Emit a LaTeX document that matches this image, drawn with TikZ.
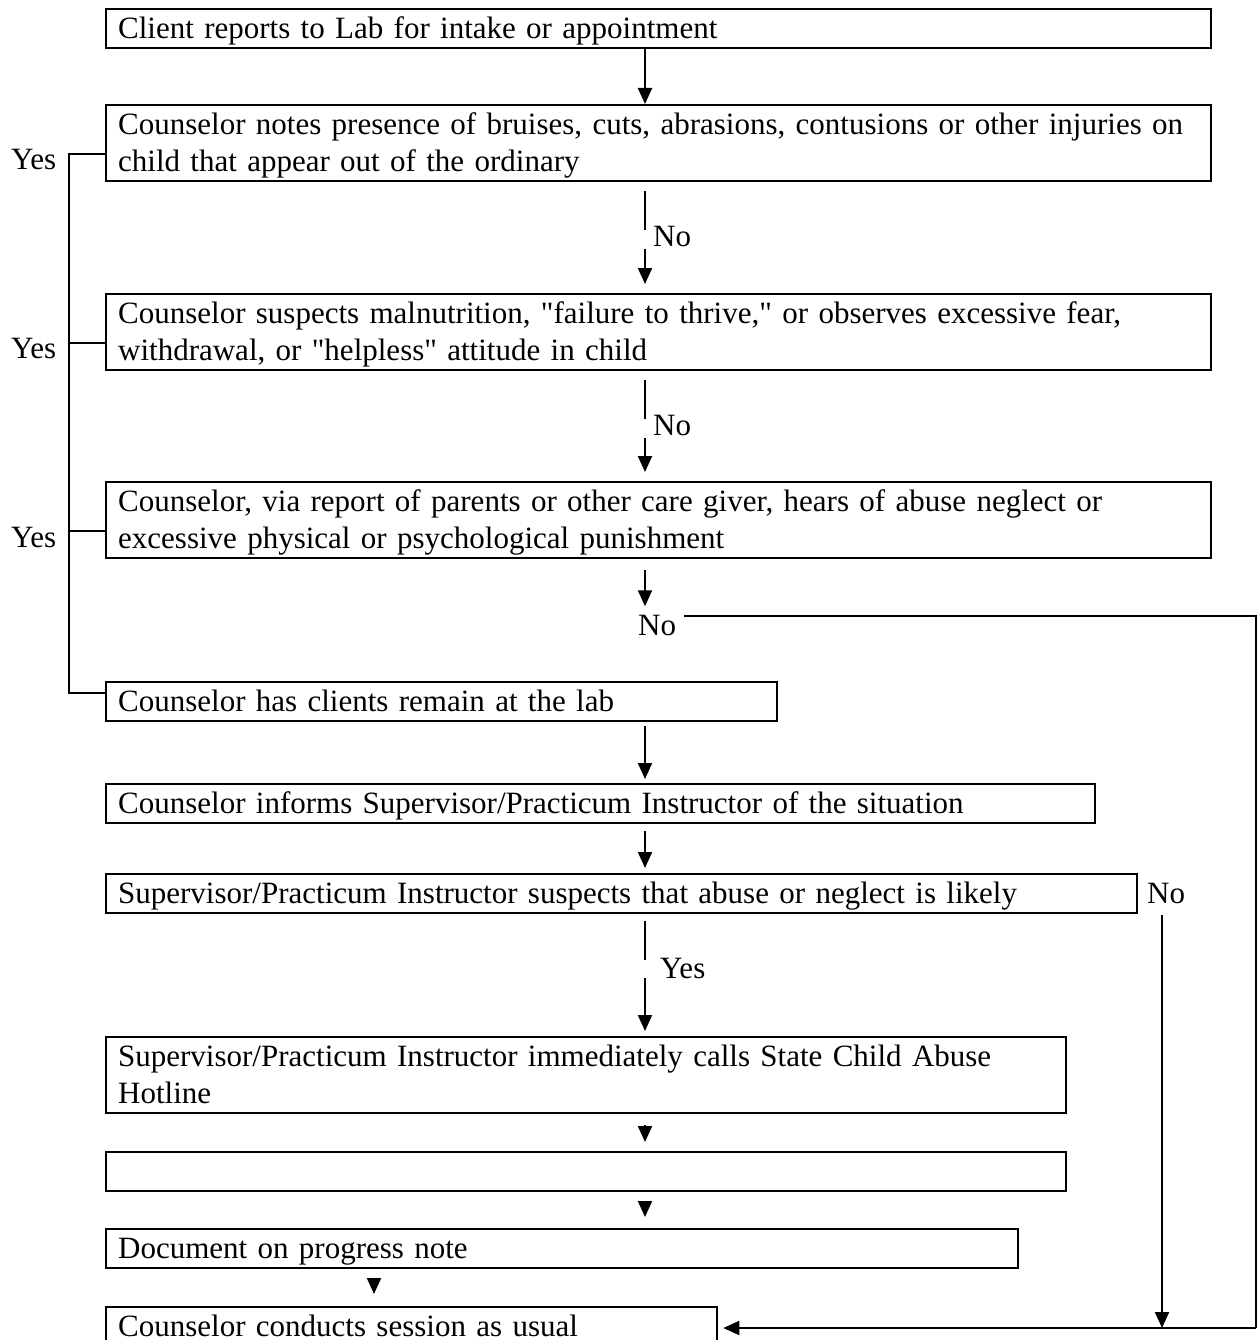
\documentclass[tikz,border=0pt]{standalone}
\usepackage{fontspec}
\setmainfont{Liberation Serif}
\usetikzlibrary{arrows.meta,calc}
\tikzset{
  box/.style={draw, line width=2.3pt, anchor=north west, inner xsep=12pt, inner ysep=0pt,
    align=left, text height=29pt, text depth=10pt},
  twoline/.style={text depth=47pt},
  conn/.style={line width=2pt},
  arr/.style={line width=2pt, -{Triangle[length=16pt,width=14pt]}},
  lbl/.style={anchor=base west, inner sep=0pt},
}
\begin{document}
\begin{tikzpicture}[x=1pt, y=-1pt, font=\fontsize{31}{37}\selectfont]
\useasboundingbox (0,0) rectangle (1257,1340);
\coordinate (mx) at (645,0);
\coordinate (lx) at (69,0);
% boxes
\node[box, text width=1081pt] (b1) at (105,8) {Client reports to Lab for intake or appointment};
\node[box, twoline, text width=1081pt] (b2) at (105,104) {Counselor notes presence of bruises, cuts, abrasions, contusions or other injuries on\\child that appear out of the ordinary};
\node[box, twoline, text width=1081pt] (b3) at (105,293) {Counselor suspects malnutrition, \textquotedbl failure to thrive,\textquotedbl{} or observes excessive fear,\\withdrawal, or \textquotedbl helpless\textquotedbl{} attitude in child};
\node[box, twoline, text width=1081pt] (b4) at (105,481) {Counselor, via report of parents or other care giver, hears of abuse neglect or\\excessive physical or psychological punishment};
\node[box, text width=647pt] (b5) at (105,681) {Counselor has clients remain at the lab};
\node[box, text width=965pt] (b6) at (105,783) {Counselor informs Supervisor/Practicum Instructor of the situation};
\node[box, text width=1007pt] (b7) at (105,873) {Supervisor/Practicum Instructor suspects that abuse or neglect is likely};
\node[box, twoline, text width=936pt] (b8) at (105,1036) {Supervisor/Practicum Instructor immediately calls State Child Abuse\\Hotline};
\node[box, text width=936pt] (b9) at (105,1151) {};
\node[box, text width=888pt] (b10) at (105,1228) {Document on progress note};
\node[box, text width=587pt] (b11) at (105,1306) {Counselor conducts session as usual};
% labels
\node[lbl] (y1) at (11,170) {Yes};
\node[lbl] (y2) at (11,358) {Yes};
\node[lbl] (y3) at (11,547) {Yes};
\node[lbl] (n2) at (653,247) {No};
\node[lbl] (n3) at (653,435) {No};
\node[lbl] (n4) at (638,635) {No};
\node[lbl] (n7) at (1147,903) {No};
\node[lbl] (y7) at (660,978) {Yes};
% right-side coordinates
\coordinate (r1) at (1256,616);
\coordinate (r2) at (1256,1328);
\coordinate (c7) at (1162,915);
% main vertical flow
\draw[arr] (b1.south -| mx) -- (b2.north -| mx);
\draw[conn] ([yshift=-9pt]b2.south -| mx) -- ([yshift=-48pt]b2.south -| mx);
\draw[arr] ([yshift=-67pt]b2.south -| mx) -- ([yshift=9pt]b3.north -| mx);
\draw[conn] ([yshift=-9pt]b3.south -| mx) -- ([yshift=-48pt]b3.south -| mx);
\draw[arr] ([yshift=-67pt]b3.south -| mx) -- ([yshift=9pt]b4.north -| mx);
\draw[arr] ([yshift=-11pt]b4.south -| mx) -- ([yshift=-47pt]b4.south -| mx);
\draw[conn] ([xshift=8pt]n4.east |- r1) -- (r1) -- (r2);
\draw[arr] (r2) -- ([xshift=5pt]b11.east |- r2);
\draw[arr] ([yshift=-4pt]b5.south -| mx) -- ([yshift=4pt]b6.north -| mx);
\draw[arr] ([yshift=-7pt]b6.south -| mx) -- ([yshift=5pt]b7.north -| mx);
\draw[conn] ([yshift=-7pt]b7.south -| mx) -- ([yshift=-46pt]b7.south -| mx);
\draw[arr] ([yshift=-64pt]b7.south -| mx) -- ([yshift=5pt]b8.north -| mx);
\draw[arr] ([yshift=-11pt]b8.south -| mx) -- ([yshift=9pt]b9.north -| mx);
\draw[arr] ([yshift=-10pt]b9.south -| mx) -- ([yshift=11pt]b10.north -| mx);
\draw[arr] ([yshift=-9pt]b10.south -| 374,0) -- ([yshift=12pt]b11.north -| 374,0);
\draw[arr] (c7) -- (c7 |- r2);
% left Yes bracket
\draw[conn] ([yshift=-11pt]b2.west) -- ([yshift=-11pt]b2.west -| lx) -- ([yshift=9pt]b5.west -| lx) -- ([yshift=9pt]b5.west);
\draw[conn] ([yshift=-10.5pt]b3.west) -- ([yshift=-10.5pt]b3.west -| lx);
\draw[conn] ([yshift=-10.5pt]b4.west) -- ([yshift=-10.5pt]b4.west -| lx);
\end{tikzpicture}
\end{document}
